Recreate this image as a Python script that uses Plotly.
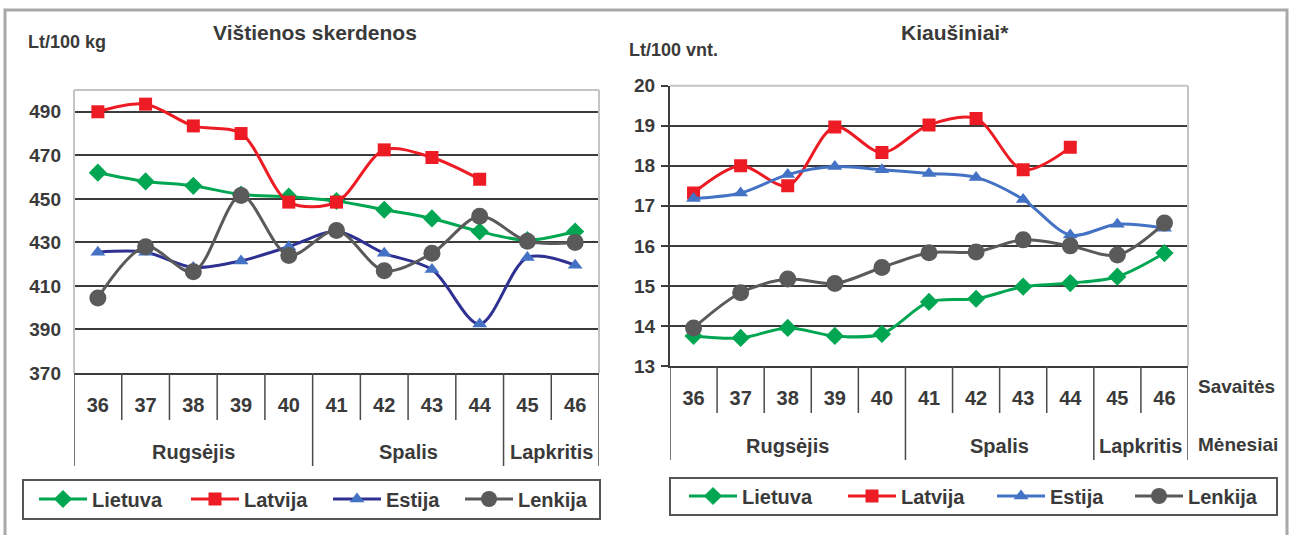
import plotly.graph_objects as go

# ---------------- data ----------------
weeks = ["36", "37", "38", "39", "40", "41", "42", "43", "44", "45", "46"]
months = ["Rugsėjis", "Spalis", "Lapkritis"]
month_weeks = [5, 4, 2]
series_names = ["Lietuva", "Latvija", "Estija", "Lenkija"]

# Vištienos skerdenos, Lt/100 kg
chicken_lt = [462, 458, 456, 452, 451, 449, 445, 441, 435, 431, 435]
chicken_lv = [490, 493.5, 483.5, 480, 448.5, 448.5, 472.5, 469, 459, None, None]
chicken_ee = [425.5, 425.5, 418.5, 421.5, 428, 435, 425, 417.5, 392.5, 423, 419.5]
chicken_pl = [404.5, 428, 416.5, 451.5, 424, 435.5, 417, 425, 442, 430.5, 430]
chicken_ticks = [370, 390, 410, 430, 450, 470, 490]

# Kiaušiniai, Lt/100 vnt.
eggs_lt = [13.75, 13.7, 13.95, 13.75, 13.8, 14.6, 14.68, 14.98, 15.07, 15.23, 15.82]
eggs_lv = [17.32, 18.0, 17.5, 18.97, 18.33, 19.02, 19.18, 17.9, 18.46, None, None]
eggs_ee = [17.18, 17.32, 17.78, 17.98, 17.9, 17.81, 17.71, 17.16, 16.27, 16.54, 16.44]
eggs_pl = [13.95, 14.83, 15.17, 15.06, 15.46, 15.83, 15.85, 16.15, 16.0, 15.77, 16.57]
eggs_ticks = [13, 14, 15, 16, 17, 18, 19, 20]

# ---------------- style ----------------
W, H = 1292, 535
FONT = "Liberation Sans, Arial, sans-serif"
TXT = "#3a3a3a"
GRID = "#3c3c3c"
LIGHT = "#c4c4c4"
SEP = "#4a4a4a"


def px(x):
    return x / W


def py(y):
    return 1 - y / H


green, red, navy, blue, gray = "#00A651", "#ED1C24", "#2E3192", "#4472C4", "#5A5A5A"

fig = go.Figure()

# legend anchor (left edge) positions in pixels, one legend per entry
left_legend_x = [34, 186, 328, 460]
right_legend_x = [684, 843, 992, 1130]


def add_series(xa, ya, data, legend_ids, estija_line):
    specs = [
        (data[0], green, green, "diamond", 14),
        (data[1], red, red, "square", 13),
        (data[2], estija_line, blue, "triangle-up", 13),
        (data[3], gray, gray, "circle", 17),
    ]
    for name, lid, (vals, lc, mc, sym, size) in zip(series_names, legend_ids, specs):
        fig.add_trace(go.Scatter(
            x=weeks, y=vals, name=name, mode="lines+markers",
            line=dict(color=lc, width=3, shape="spline", smoothing=0.9),
            marker=dict(color=mc, symbol=sym, size=size, line=dict(width=0)),
            xaxis=xa, yaxis=ya, legend=lid, showlegend=True,
        ))


add_series("x", "y", [chicken_lt, chicken_lv, chicken_ee, chicken_pl],
           ["legend", "legend2", "legend3", "legend4"], navy)
add_series("x2", "y2", [eggs_lt, eggs_lv, eggs_ee, eggs_pl],
           ["legend5", "legend6", "legend7", "legend8"], blue)

tickfont = dict(family=FONT, size=19, color=TXT, weight="bold")
xtickfont = dict(family=FONT, size=20, color=TXT, weight="bold")

xcommon = dict(type="category", range=[-0.5, len(weeks) - 0.5], showgrid=False,
               showline=True, linecolor=GRID, linewidth=2, ticks="",
               tickfont=xtickfont, ticklabelstandoff=13, fixedrange=True, automargin=False)

legend_font = dict(family=FONT, size=20, color=TXT, weight="bold")
legends = {}
for i, lx in enumerate(left_legend_x + right_legend_x):
    key = "legend" if i == 0 else f"legend{i + 1}"
    ly = 499 if i < 4 else 496
    legends[key] = dict(orientation="h", x=px(lx), y=py(ly), xanchor="left", yanchor="middle",
                        font=legend_font, bgcolor="rgba(0,0,0,0)", borderwidth=0,
                        itemwidth=48)

fig.update_layout(
    width=W, height=H, margin=dict(l=0, r=0, t=0, b=0, autoexpand=False),
    paper_bgcolor="white", plot_bgcolor="white",
    xaxis=dict(domain=[px(74), px(599)], anchor="y", **xcommon),
    yaxis=dict(domain=[py(373), py(90)], range=[370, 500], tickvals=chicken_ticks,
               showgrid=True, gridcolor=GRID, gridwidth=1.5, zeroline=False,
               showline=False, ticks="", tickfont=tickfont, ticklabelstandoff=12,
               anchor="x", fixedrange=True, automargin=False),
    xaxis2=dict(domain=[px(670), px(1188)], anchor="y2", **xcommon),
    yaxis2=dict(domain=[py(366), py(85.7)], range=[13, 20], tickvals=eggs_ticks,
                showgrid=True, gridcolor=GRID, gridwidth=1.5, zeroline=False,
                showline=True, linecolor=GRID, linewidth=2, ticks="outside",
                ticklen=7, tickcolor=GRID, tickwidth=1.5, tickfont=tickfont,
                ticklabelstandoff=2, anchor="x2", fixedrange=True, automargin=False),
    showlegend=True,
    **legends,
)

shapes = []
# outer frame
shapes.append(dict(type="rect", xref="paper", yref="paper", x0=px(5), x1=px(1287),
                   y0=-0.05, y1=py(10), line=dict(color="#a8a8a8", width=3), layer="below"))
# plot area light borders
for xr, yr in (("x", "y"), ("x2", "y2")):
    shapes.append(dict(type="line", xref=f"{xr} domain", yref=f"{yr} domain",
                       x0=0, x1=1, y0=1, y1=1, line=dict(color=LIGHT, width=2), layer="above"))
    shapes.append(dict(type="line", xref=f"{xr} domain", yref=f"{yr} domain",
                       x0=1, x1=1, y0=0, y1=1, line=dict(color=LIGHT, width=2), layer="above"))
shapes.append(dict(type="line", xref="x domain", yref="y domain", x0=0, x1=0, y0=0, y1=1,
                   line=dict(color=LIGHT, width=2), layer="above"))

# category separators below the axes
month_bounds = [-0.5]
for n in month_weeks:
    month_bounds.append(month_bounds[-1] + n)


def separators(xr, y_axis, y_week, y_month):
    for i in range(len(weeks) + 1):
        b = i - 0.5
        long = b in month_bounds
        shapes.append(dict(type="line", xref=xr, yref="paper", x0=b, x1=b,
                           y0=py(y_month if long else y_week), y1=py(y_axis),
                           line=dict(color=SEP, width=1.5)))


separators("x", 373, 420, 466)
separators("x2", 366, 413, 460)

# legend boxes
shapes.append(dict(type="rect", xref="paper", yref="paper", x0=px(23), x1=px(600),
                   y0=py(519), y1=py(480), line=dict(color="#555555", width=2)))
shapes.append(dict(type="rect", xref="paper", yref="paper", x0=px(670), x1=px(1277),
                   y0=py(515), y1=py(478), line=dict(color="#555555", width=2)))
fig.update_layout(shapes=shapes)

ann = []
lab = dict(family=FONT, size=20, color=TXT, weight="bold")
for xr, ym in (("x", 452), ("x2", 446)):
    for name, lo, hi in zip(months, month_bounds[:-1], month_bounds[1:]):
        ann.append(dict(text=name, x=(lo + hi) / 2, xref=xr, y=py(ym), yref="paper",
                        showarrow=False, font=lab, xanchor="center", yanchor="middle"))


def note(text, x, y, size, xanchor):
    return dict(text=text, x=px(x), y=py(y), xref="paper", yref="paper", xanchor=xanchor,
                yanchor="middle", showarrow=False,
                font=dict(family=FONT, size=size, color=TXT, weight="bold"))


ann += [
    note("Vištienos skerdenos", 315, 33, 21, "center"),
    note("Lt/100 kg", 26, 42, 18, "left"),
    note("Kiaušiniai*", 955, 33, 21, "center"),
    note("Lt/100 vnt.", 627, 50, 18, "left"),
    note("Savaitės", 1196, 386, 19, "left"),
    note("Mėnesiai", 1196, 444, 19, "left"),
]
fig.update_layout(annotations=ann)

fig.write_html("out.html", config={"displayModeBar": False},
               post_script="document.body.style.margin='0px';")
